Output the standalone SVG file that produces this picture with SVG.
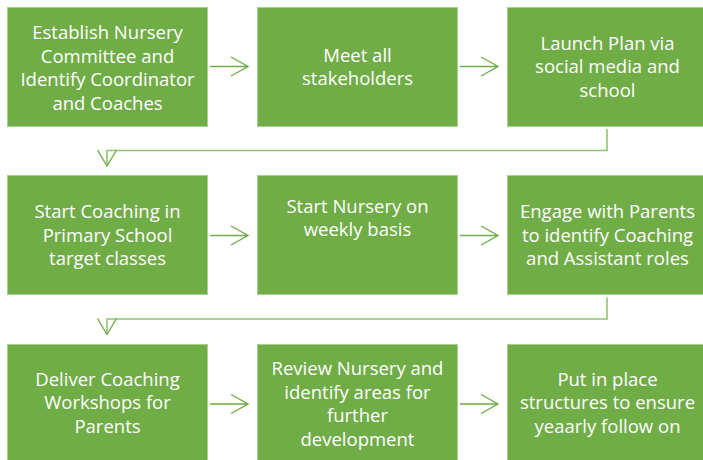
<svg xmlns="http://www.w3.org/2000/svg" width="703" height="460" viewBox="0 0 703 460">
<defs>
<style>
.box{fill:#70ad47;stroke:#a9d18e;stroke-width:1}
.t{font-family:"Open Sans","Liberation Sans",sans-serif;font-size:18.5px;fill:#ffffff;text-anchor:middle}
.arr{fill:none;stroke:#70ad47;stroke-width:1.4}
.con{fill:none;stroke:#8fc46e;stroke-width:1.6}
</style>
</defs>
<rect width="703" height="460" fill="#ffffff"/>
<g id="n1"><rect class="box" x="7.5" y="7.5" width="200" height="119"/>
<text class="t"><tspan x="107.5" y="39">Establish Nursery</tspan><tspan x="107.5" y="62.5">Committee and</tspan><tspan x="107.5" y="86">Identify Coordinator</tspan><tspan x="107.5" y="109.5">and Coaches</tspan></text></g>
<g id="n2"><rect class="box" x="257.5" y="7.5" width="200" height="119"/>
<text class="t"><tspan x="357.5" y="61.5">Meet all</tspan><tspan x="357.5" y="85">stakeholders</tspan></text></g>
<g id="n3"><rect class="box" x="507.5" y="7.5" width="200" height="119"/>
<text class="t"><tspan x="607.5" y="49.5">Launch Plan via</tspan><tspan x="607.5" y="73">social media and</tspan><tspan x="607.5" y="96.5">school</tspan></text></g>
<g id="n4"><rect class="box" x="7.5" y="175.5" width="200" height="119"/>
<text class="t"><tspan x="107.5" y="218">Start Coaching in</tspan><tspan x="107.5" y="241.5">Primary School</tspan><tspan x="107.5" y="265">target classes</tspan></text></g>
<g id="n5"><rect class="box" x="257.5" y="175.5" width="200" height="119"/>
<text class="t"><tspan x="357.5" y="212.5">Start Nursery on</tspan><tspan x="357.5" y="236">weekly basis</tspan></text></g>
<g id="n6"><rect class="box" x="507.5" y="175.5" width="200" height="119"/>
<text class="t"><tspan x="607.5" y="218">Engage with Parents</tspan><tspan x="607.5" y="241.5">to identify Coaching</tspan><tspan x="607.5" y="265">and Assistant roles</tspan></text></g>
<g id="n7"><rect class="box" x="7.5" y="344.5" width="200" height="119"/>
<text class="t"><tspan x="107.5" y="385.5">Deliver Coaching</tspan><tspan x="107.5" y="409">Workshops for</tspan><tspan x="107.5" y="432.5">Parents</tspan></text></g>
<g id="n8"><rect class="box" x="257.5" y="344.5" width="200" height="119"/>
<text class="t"><tspan x="357.5" y="375">Review Nursery and</tspan><tspan x="357.5" y="398.5">identify areas for</tspan><tspan x="357.5" y="422">further</tspan><tspan x="357.5" y="445.5">development</tspan></text></g>
<g id="n9"><rect class="box" x="507.5" y="344.5" width="200" height="119"/>
<text class="t"><tspan x="607.5" y="385.5">Put in place</tspan><tspan x="607.5" y="409">structures to ensure</tspan><tspan x="607.5" y="432.5">yeaarly follow on</tspan></text></g>
<g id="connectors">
<path class="arr" d="M210 66.5H248M231 57L248 66.5L231 76"/>
<path class="arr" d="M460 66.5H498M481 57L498 66.5L481 76"/>
<path class="arr" d="M210 235.5H248M231 226L248 235.5L231 245"/>
<path class="arr" d="M460 235.5H498M481 226L498 235.5L481 245"/>
<path class="arr" d="M210 404H248M231 394.5L248 404L231 413.5"/>
<path class="arr" d="M460 404H498M481 394.5L498 404L481 413.5"/>
<path class="con" d="M607 129V150.5H107V165"/>
<path class="arr" d="M97.5 150L107 166L116.5 150"/>
<path class="con" d="M607 297.5V319H107V333.5"/>
<path class="arr" d="M97.5 318.5L107 334.5L116.5 318.5"/>
</g>
</svg>
